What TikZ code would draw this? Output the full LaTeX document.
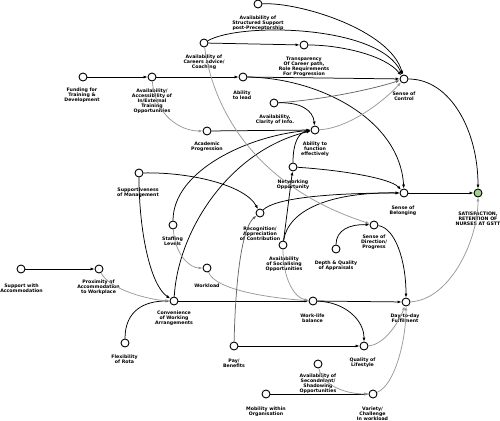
\documentclass[tikz,border=0pt]{standalone}
\usepackage{fontspec}
\setmainfont{DejaVu Sans}
\usetikzlibrary{arrows.meta}
\definecolor{satgreen}{RGB}{160,212,140}
\begin{document}
\begin{tikzpicture}[x=1pt,y=-1pt,
  nd/.style={circle,draw,line width=0.9pt,fill=white,minimum size=8pt,inner sep=0pt},
  lb/.style={font=\fontsize{4.7}{4.9}\selectfont\bfseries,align=center,inner sep=0pt},
  ar/.style={-{Latex[length=4pt,width=3pt]},line width=0.75pt},
  gr/.style={ar,draw=black!40},
  mg/.style={ar,draw=black!60}
]
\useasboundingbox (0,0) rectangle (500,420);
% nodes
\node[nd] (struct) at (258,4) {};
\node[nd] (careers) at (204,43) {};
\node[nd] (transp) at (304,45) {};
\node[nd] (fund) at (83,77) {};
\node[nd] (train) at (152,77) {};
\node[nd] (lead) at (243,77) {};
\node[nd] (control) at (404,79) {};
\node[nd] (clarity) at (274,103) {};
\node[nd] (func) at (315,130) {};
\node[nd] (acad) at (207,131) {};
\node[nd] (supp) at (139,173) {};
\node[nd] (netw) at (293,167) {};
\node[nd] (belong) at (404,193) {};
\node[nd,fill=satgreen] (sat) at (478,193) {};
\node[nd] (recog) at (260,213) {};
\node[nd] (staff) at (173,225) {};
\node[nd] (direc) at (374,225) {};
\node[nd] (social) at (283,245) {};
\node[nd] (depth) at (336,249) {};
\node[nd] (workload) at (207,268) {};
\node[nd] (accom) at (21,269) {};
\node[nd] (prox) at (99,269) {};
\node[nd] (conv) at (174,301) {};
\node[nd] (wlb) at (313,301) {};
\node[nd] (daily) at (406,302) {};
\node[nd] (flex) at (125,343) {};
\node[nd] (pay) at (234,346) {};
\node[nd] (qual) at (364,346) {};
\node[nd] (second) at (318,364) {};
\node[nd] (mobil) at (266,394) {};
\node[nd] (variety) at (373,394) {};
% labels
\node[lb] (lstruct) at (258,23.5) {Availability of\\Structured Support\\post-Preceptorship};
\node[lb] (lcareers) at (204,62) {Availability of\\Careers advice/\\Coaching};
\node[lb] (ltransp) at (304,67) {Transparency\\Of Career path,\\Role Requirements\\For Progression};
\node[lb] (lfund) at (82,95.5) {Funding for\\Training \&\\Development};
\node[lb] (ltrain) at (152,101) {Availability/\\Accessibility of\\In/External\\Training\\Opportunities};
\node[lb] (llead) at (242,95) {Ability\\to lead};
\node[lb] (lcontrol) at (404,96.5) {Sense of\\Control};
\node[lb] (lclarity) at (275,119.5) {Availability,\\Clarity of Info.};
\node[lb] (lfunc) at (315,149) {Ability to\\function\\effectively};
\node[lb] (lacad) at (207,146.5) {Academic\\Progression};
\node[lb] (lsupp) at (138,192.5) {Supportiveness\\of Management};
\node[lb] (lnetw) at (293,184.5) {Networking\\Opportunity};
\node[lb] (lbelong) at (403,210.5) {Sense of\\Belonging};
\node[lb] (lsat) at (478,218.5) {SATISFACTION,\\RETENTION OF\\NURSES AT GSTT};
\node[lb] (lrecog) at (260,233.5) {Recognition/\\Appreciation\\of Contribution};
\node[lb] (lstaff) at (172.5,241.5) {Staffing\\Levels};
\node[lb] (ldirec) at (374,242) {Sense of\\Direction/\\Progress};
\node[lb] (lsocial) at (284,264) {Availability\\of Socialising\\Opportunities};
\node[lb] (ldepth) at (336,266) {Depth \& Quality\\of Appraisals};
\node[lb] (lworkload) at (207,285.5) {Workload};
\node[lb] (laccom) at (21.5,288) {Support with\\Accommodation};
\node[lb] (lprox) at (98.5,287.5) {Proximity of\\Accommodation\\to Workplace};
\node[lb] (lconv) at (174,318) {Convenience\\of Working\\Arrangements};
\node[lb] (lwlb) at (312.5,318.5) {Work-life\\balance};
\node[lb] (ldaily) at (405,318.5) {Day-to-day\\Fulfilment};
\node[lb] (lflex) at (124.5,359.5) {Flexibility\\of Rota};
\node[lb] (lpay) at (234,363) {Pay/\\Benefits};
\node[lb] (lqual) at (362.5,363) {Quality of\\Lifestyle};
\node[lb] (lsecond) at (318,383.5) {Availability of\\Secondment/\\Shadowing\\Opportunities};
\node[lb] (lmobil) at (266,411.5) {Mobility within\\Organisation};
\node[lb] (lvariety) at (372.5,413.5) {Variety/\\Challenge\\In workload};
% edges
\draw[ar] (fund) -- (train);
\draw[ar] (train) -- (lead);
\draw[gr] (train) .. controls (155,115) and (180,131) .. (acad);
\draw[ar] (careers) -- (transp);
\draw[ar] (careers) .. controls (240,22) and (380,25) .. (control);
\draw[ar] (struct) .. controls (300,2) and (390,30) .. (control);
\draw[ar] (transp) .. controls (340,45) and (385,55) .. (control);
\draw[ar] (lead) -- (control);
\draw[ar] (lead) .. controls (320,78) and (400,120) .. (belong);
\draw[ar] (control) .. controls (450,79) and (478,130) .. (sat);
\draw[mg] (clarity) .. controls (320,100) and (370,90) .. (control);
\draw[ar] (clarity) .. controls (300,102) and (313,110) .. (func);
\draw[gr] (func) .. controls (350,128) and (385,100) .. (control);
\draw[ar] (acad) -- (func);
\draw[ar] (staff) .. controls (173,170) and (250,135) .. (func);
\draw[ar] (conv) .. controls (178,230) and (230,150) .. (func);
\draw[ar] (supp) .. controls (190,172) and (245,185) .. (recog);
\draw[ar] (supp) .. controls (139,230) and (150,285) .. (conv);
\draw[ar] (flex) .. controls (125,310) and (145,301) .. (conv);
\draw[gr] (prox) .. controls (110,290) and (150,300) .. (conv);
\draw[ar] (accom) -- (prox);
\draw[gr] (staff) .. controls (175,255) and (190,268) .. (workload);
\draw[gr] (workload) .. controls (215,290) and (270,298) .. (wlb);
\draw[ar] (conv) -- (wlb);
\draw[gr] (social) .. controls (283,280) and (295,298) .. (wlb);
\draw[ar] (social) -- (netw);
\draw[ar] (social) .. controls (288,210) and (330,192) .. (belong);
\draw[ar] (recog) .. controls (275,198) and (330,193) .. (belong);
\draw[ar] (netw) .. controls (340,170) and (390,178) .. (belong);
\draw[ar] (netw) .. controls (293,140) and (300,132) .. (func);
\draw[ar] (belong) -- (sat);
\draw[gr] (careers) .. controls (215,120) and (265,190) .. (direc);
\draw[ar] (depth) .. controls (336,230) and (350,224) .. (direc);
\draw[ar] (direc) .. controls (395,228) and (406,260) .. (daily);
\draw[gr] (daily) .. controls (450,300) and (478,240) .. (sat);
\draw[ar] (wlb) -- (daily);
\draw[ar] (wlb) .. controls (345,302) and (364,320) .. (qual);
\draw[ar] (pay) -- (qual);
\draw[mg] (pay) .. controls (236,260) and (245,225) .. (recog);
\draw[gr] (qual) .. controls (385,345) and (400,320) .. (daily);
\draw[gr] (variety) .. controls (395,385) and (406,340) .. (daily);
\draw[ar] (mobil) -- (variety);
\draw[gr] (second) .. controls (322,385) and (345,394) .. (variety);
\end{tikzpicture}
\end{document}
